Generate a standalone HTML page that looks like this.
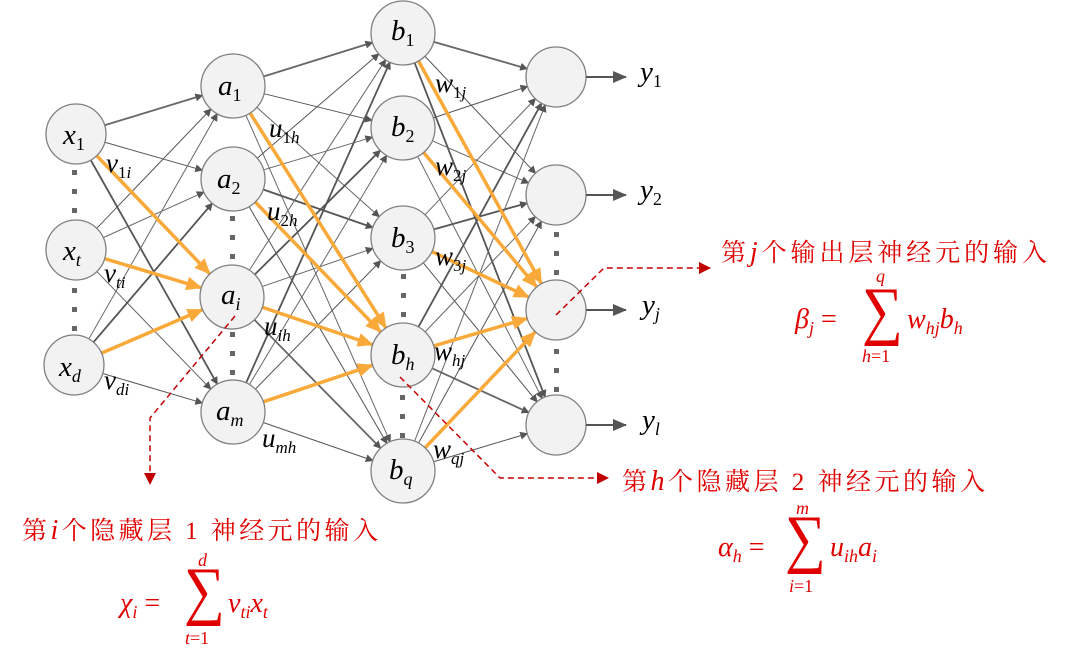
<!DOCTYPE html>
<html><head><meta charset="utf-8"><style>
html,body{margin:0;padding:0;background:#fff;}
svg{display:block}
.m{font-family:"Liberation Serif","DejaVu Serif",serif;font-style:italic;fill:#000}
.r{font-family:"Liberation Serif","Noto Serif CJK SC",serif;fill:#e00000}
</style></head><body>
<svg id="s" width="1077" height="657" viewBox="0 0 1077 657" xmlns="http://www.w3.org/2000/svg">
<defs>
<marker id="ag" markerWidth="8" markerHeight="8" refX="7" refY="4" orient="auto" markerUnits="userSpaceOnUse"><path d="M0,0 L8,4 L0,8 z" fill="#555"/></marker>
<marker id="ag2" markerWidth="14" markerHeight="12" refX="13" refY="6" orient="auto" markerUnits="userSpaceOnUse"><path d="M0,0 L14,6 L0,12 z" fill="#555"/></marker>
<marker id="ao" markerWidth="16" markerHeight="14" refX="15" refY="7" orient="auto" markerUnits="userSpaceOnUse"><path d="M0,0 L16,7 L0,14 z" fill="#f8a93a"/></marker>
<marker id="ar" markerWidth="12" markerHeight="12" refX="11" refY="6" orient="auto" markerUnits="userSpaceOnUse"><path d="M0,0 L12,6 L0,12 z" fill="#c00000"/></marker>
</defs>
<g id="edges"></g>
<g id="oedges"></g>
<g id="nodes"></g>
<g stroke="#555" stroke-width="2" marker-end="url(#ag2)">
<line x1="586" y1="77" x2="626" y2="77"/><line x1="586" y1="195" x2="626" y2="195"/>
<line x1="586" y1="310" x2="626" y2="310"/><line x1="586" y1="425" x2="626" y2="425"/>
</g>
<g fill="#666">
<rect x="72" y="170" width="5" height="5"/><rect x="72" y="189" width="5" height="5"/><rect x="72" y="208" width="5" height="5"/>
<rect x="72" y="288" width="5" height="5"/><rect x="72" y="307" width="5" height="5"/><rect x="72" y="326" width="5" height="5"/>
<rect x="230" y="216" width="5" height="5"/><rect x="230" y="235" width="5" height="5"/><rect x="230" y="254" width="5" height="5"/>
<rect x="230" y="332" width="5" height="5"/><rect x="230" y="351" width="5" height="5"/><rect x="230" y="370" width="5" height="5"/>
<rect x="401" y="274" width="5" height="5"/><rect x="401" y="293" width="5" height="5"/><rect x="401" y="312" width="5" height="5"/>
<rect x="400" y="395" width="5" height="5"/><rect x="400" y="414" width="5" height="5"/><rect x="400" y="433" width="5" height="5"/>
<rect x="554" y="232" width="5" height="5"/><rect x="554" y="251" width="5" height="5"/><rect x="554" y="270" width="5" height="5"/>
<rect x="554" y="349" width="5" height="5"/><rect x="554" y="368" width="5" height="5"/><rect x="554" y="387" width="5" height="5"/>
</g>
<g class="m" font-size="29">
<text x="63" y="144">x<tspan font-size="18" font-style="normal" dy="6">1</tspan></text>
<text x="63" y="260">x<tspan font-size="18" dy="6">t</tspan></text>
<text x="59" y="376">x<tspan font-size="18" dy="6">d</tspan></text>
<text x="218" y="95">a<tspan font-size="18" font-style="normal" dy="6">1</tspan></text>
<text x="217" y="188">a<tspan font-size="18" font-style="normal" dy="6">2</tspan></text>
<text x="221" y="304">a<tspan font-size="18" dy="6">i</tspan></text>
<text x="216" y="420">a<tspan font-size="18" dy="6">m</tspan></text>
<text x="391" y="40">b<tspan font-size="18" font-style="normal" dy="6">1</tspan></text>
<text x="391" y="136">b<tspan font-size="18" font-style="normal" dy="6">2</tspan></text>
<text x="391" y="247">b<tspan font-size="18" font-style="normal" dy="6">3</tspan></text>
<text x="391" y="364">b<tspan font-size="18" dy="6">h</tspan></text>
<text x="389" y="479">b<tspan font-size="18" dy="6">q</tspan></text>
<text x="640" y="81">y<tspan font-size="18" font-style="normal" dy="6">1</tspan></text>
<text x="640" y="199">y<tspan font-size="18" font-style="normal" dy="6">2</tspan></text>
<text x="642" y="314">y<tspan font-size="18" dy="6">j</tspan></text>
<text x="642" y="429">y<tspan font-size="18" dy="6">l</tspan></text>
</g>
<g class="m" font-size="27">
<text x="106" y="172">v<tspan font-size="17" font-style="normal" dy="6">1</tspan><tspan font-size="17">i</tspan></text>
<text x="104" y="282">v<tspan font-size="17" dy="6">ti</tspan></text>
<text x="104" y="389">v<tspan font-size="17" dy="6">di</tspan></text>
<text x="269" y="137">u<tspan font-size="17" font-style="normal" dy="6">1</tspan><tspan font-size="17">h</tspan></text>
<text x="267" y="220">u<tspan font-size="17" font-style="normal" dy="6">2</tspan><tspan font-size="17">h</tspan></text>
<text x="264" y="335">u<tspan font-size="17" dy="6">ih</tspan></text>
<text x="262" y="447">u<tspan font-size="17" dy="6">mh</tspan></text>
<text x="435" y="92">w<tspan font-size="17" font-style="normal" dy="6">1</tspan><tspan font-size="17">j</tspan></text>
<text x="435" y="175">w<tspan font-size="17" font-style="normal" dy="6">2</tspan><tspan font-size="17">j</tspan></text>
<text x="435" y="265">w<tspan font-size="17" font-style="normal" dy="6">3</tspan><tspan font-size="17">j</tspan></text>
<text x="434" y="360">w<tspan font-size="17" dy="6">hj</tspan></text>
<text x="433" y="458">w<tspan font-size="17" dy="6">qj</tspan></text>
</g>
<g stroke="#c00000" stroke-width="1.5" stroke-dasharray="6,4" fill="none">
<polyline points="235,316 150,418 150,484" marker-end="url(#ar)"/>
<polyline points="400,377 500,478 608,478" marker-end="url(#ar)"/>
<polyline points="556,315 604,268 710,268" marker-end="url(#ar)"/>
</g>
<g class="r" font-size="25">
<text x="22" y="539" textLength="356" lengthAdjust="spacing">第<tspan font-style="italic" font-family="Liberation Serif" font-size="28">i</tspan>个隐藏层 1 神经元的输入</text>
<text x="622" y="490" textLength="363" lengthAdjust="spacing">第<tspan font-style="italic" font-family="Liberation Serif" font-size="28">h</tspan>个隐藏层 2 神经元的输入</text>
<text x="721" y="261" textLength="326" lengthAdjust="spacing">第<tspan font-style="italic" font-family="Liberation Serif" font-size="28">j</tspan>个输出层神经元的输入</text>
</g>
<g class="r" font-style="italic" font-size="28">
<text x="120" y="612">χ<tspan font-size="18" dy="6">i</tspan><tspan dy="-6" font-style="normal"> = </tspan></text>
<text transform="translate(184,612) scale(0.88,1)" font-size="65" font-style="normal">∑</text>
<text x="198" y="566" font-size="18">d</text>
<text x="185" y="644" font-size="18">t<tspan font-style="normal">=1</tspan></text>
<text x="228" y="612">v<tspan font-size="18" dy="6">ti</tspan><tspan dy="-6">x</tspan><tspan font-size="18" dy="6">t</tspan></text>

<text x="718" y="556">α<tspan font-size="18" dy="6">h</tspan><tspan dy="-6" font-style="normal"> = </tspan></text>
<text transform="translate(785,560) scale(0.88,1)" font-size="65" font-style="normal">∑</text>
<text x="796" y="514" font-size="18">m</text>
<text x="789" y="592" font-size="18">i<tspan font-style="normal">=1</tspan></text>
<text x="830" y="556">u<tspan font-size="18" dy="6">ih</tspan><tspan dy="-6">a</tspan><tspan font-size="18" dy="6">i</tspan></text>

<text x="795" y="328">β<tspan font-size="18" dy="6">j</tspan><tspan dy="-6" font-style="normal"> = </tspan></text>
<text transform="translate(862,332) scale(0.88,1)" font-size="65" font-style="normal">∑</text>
<text x="876" y="282" font-size="18">q</text>
<text x="862" y="362" font-size="18">h<tspan font-style="normal">=1</tspan></text>
<text x="907" y="328">w<tspan font-size="18" dy="6">hj</tspan><tspan dy="-6">b</tspan><tspan font-size="18" dy="6">h</tspan></text>
</g>
</svg>
<script>
var NS="http://www.w3.org/2000/svg";
var X=[[76,134],[76,250],[74,365]],A=[[233,86],[233,179],[232,297],[233,412]],
B=[[403,33],[403,128],[403,238],[403,355],[403,471]],Y=[[556,77],[556,195],[556,310],[556,425]];
var r1=30,r2=32;
var E=document.getElementById("edges"),O=document.getElementById("oedges"),N=document.getElementById("nodes");
function ln(g,p,q,rp,rq,col,w,mk){var dx=q[0]-p[0],dy=q[1]-p[1],d=Math.hypot(dx,dy);
var l=document.createElementNS(NS,"line");
l.setAttribute("x1",p[0]+dx/d*rp);l.setAttribute("y1",p[1]+dy/d*rp);
l.setAttribute("x2",q[0]-dx/d*rq);l.setAttribute("y2",q[1]-dy/d*rq);
l.setAttribute("stroke",col);l.setAttribute("stroke-width",w);l.setAttribute("marker-end","url(#"+mk+")");g.appendChild(l);}
function layer(S,T,rs,rt,isO){S.forEach(function(p,i){T.forEach(function(q,j){
 var o=isO(i,j);
 if(o) ln(O,p,q,rs,rt,"#f8a93a",3.5,"ao");
 else ln(E,p,q,rs,rt,(i+j)%2?"#555":"#666",(i+j)%3==0?1.8:1,"ag");});});}
layer(X,A,r1,r2,function(i,j){return j==2;});
layer(A,B,r2,r2,function(i,j){return j==3;});
layer(B,Y,r2,r1,function(i,j){return j==2;});
[X,A,B,Y].forEach(function(L,k){L.forEach(function(p){var c=document.createElementNS(NS,"circle");
c.setAttribute("cx",p[0]);c.setAttribute("cy",p[1]);c.setAttribute("r",(k==0||k==3)?r1:r2);
c.setAttribute("fill","#f2f2f2");c.setAttribute("stroke","#808080");c.setAttribute("stroke-width","1.3");N.appendChild(c);});});
</script>
</body></html>
